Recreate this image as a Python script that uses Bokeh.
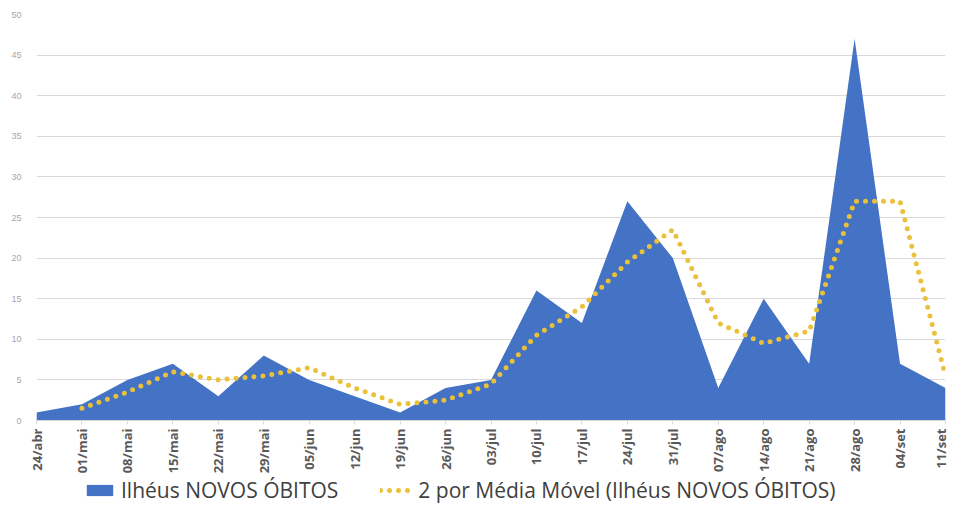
from bokeh.plotting import figure
from bokeh.models import Legend, LegendItem, FixedTicker, Range1d, ColumnDataSource
from bokeh.layouts import column
from bokeh.embed import file_html
from bokeh.resources import INLINE
import math

labels = ["24/abr", "01/mai", "08/mai", "15/mai", "22/mai", "29/mai", "05/jun",
          "12/jun", "19/jun", "26/jun", "03/jul", "10/jul", "17/jul", "24/jul",
          "31/jul", "07/ago", "14/ago", "21/ago", "28/ago", "04/set", "11/set"]
novos_obitos = [1, 2, 5, 7, 3, 8, 5, 3, 1, 4, 5, 16, 12, 27, 20, 4, 15, 7, 47, 7, 4]
media_movel = [1.5, 3.5, 6, 5, 5.5, 6.5, 4, 2, 2.5, 4.5, 10.5, 14, 19.5, 23.5,
               12, 9.5, 11, 27, 27, 5.5]
y_ticks = [0, 5, 10, 15, 20, 25, 30, 35, 40, 45, 50]

AREA_COLOR = "#4472C4"
MA_COLOR = "#E9C13B"

idx = list(range(len(labels)))
src_area = ColumnDataSource(dict(x=idx, y=novos_obitos, y0=[0] * len(idx)))
src_ma = ColumnDataSource(dict(x=idx[1:], y=media_movel))

p = figure(width=949, height=476, output_backend="svg", toolbar_location=None,
           x_range=Range1d(0, len(labels) - 1), y_range=Range1d(0, 50),
           min_border_left=36, min_border_right=4, min_border_top=14,
           min_border_bottom=55)
p.outline_line_color = None

p.varea(x="x", y1="y0", y2="y", source=src_area, fill_color=AREA_COLOR)
p.line(x="x", y="y", source=src_ma, line_color=MA_COLOR, line_width=5,
       line_dash="0 9", line_cap="round")

p.xgrid.grid_line_color = None
p.ygrid.grid_line_color = "#D9D9D9"
p.ygrid.ticker = FixedTicker(ticks=y_ticks)

p.yaxis.ticker = FixedTicker(ticks=y_ticks)
p.yaxis.axis_line_color = None
p.yaxis.major_tick_line_color = None
p.yaxis.minor_tick_line_color = None
p.yaxis.major_label_text_font_size = "9px"
p.yaxis.major_label_text_color = "#A6A6A6"
p.yaxis.major_label_standoff = 9

p.xaxis.ticker = FixedTicker(ticks=idx)
p.xaxis.major_label_overrides = {i: l for i, l in zip(idx, labels)}
p.xaxis.major_label_orientation = math.pi / 2
p.xaxis.major_label_text_font = "Open Sans"
p.xaxis.major_label_text_font_size = "13px"
p.xaxis.major_label_text_font_style = "bold"
p.xaxis.major_label_text_color = "#595959"
p.xaxis.axis_line_color = "#D9D9D9"
p.xaxis.major_tick_line_color = "#D9D9D9"
p.xaxis.major_tick_in = 0
p.xaxis.major_tick_out = 4
p.xaxis.minor_tick_line_color = None
p.xaxis.major_label_standoff = 4

# legend strip: same glyphs, drawn out of view so only the legend shows
q = figure(width=949, height=30, output_backend="svg", toolbar_location=None,
           x_range=Range1d(-100, -99), y_range=Range1d(-100, -99),
           min_border_left=0, min_border_right=0, min_border_top=0,
           min_border_bottom=0)
q.outline_line_color = None
q.axis.visible = False
q.grid.visible = False
la = q.varea(x="x", y1="y0", y2="y", source=src_area, fill_color=AREA_COLOR)
lm = q.line(x="x", y="y", source=src_ma, line_color=MA_COLOR, line_width=5,
            line_dash="0 9", line_cap="round")

legend = Legend(items=[LegendItem(label="Ilhéus NOVOS ÓBITOS", renderers=[la]),
                       LegendItem(label="2 por Média Móvel (Ilhéus NOVOS ÓBITOS)", renderers=[lm])],
                orientation="horizontal", location=(47, 2),
                label_text_font="Open Sans", label_text_font_size="21px",
                label_text_color="#404040", border_line_color=None,
                background_fill_alpha=0, label_height=18,
                glyph_width=33, glyph_height=14, spacing=42, padding=1, margin=0,
                label_standoff=5)
q.add_layout(legend)

open("out.html", "w").write(file_html(column(p, q, spacing=0), INLINE))
